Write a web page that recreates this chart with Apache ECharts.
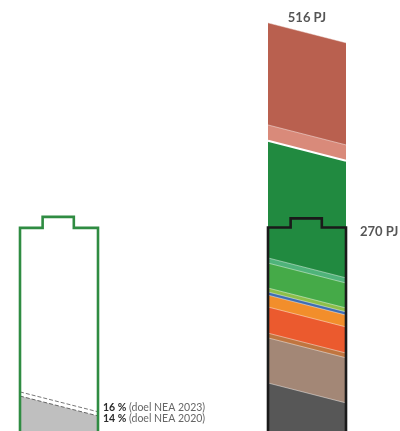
<!DOCTYPE html>
<html>
<head>
    <meta charset="utf-8">
    <title>Energie</title>
    <script src="https://cdn.jsdelivr.net/npm/echarts@6/dist/echarts.min.js"></script>
    <style>html, body { margin: 0; background: #fff; }</style>
</head>
<body>
    <div id="main" style="width: 400px;height:431px;"></div>
    <script type="text/javascript">
        // rechterkolom: lagen van onder naar boven (PJ)
        var layerNames = ['laag 1', 'laag 2', 'laag 3', 'laag 4', 'laag 5', 'laag 6',
                          'laag 7', 'laag 8', 'laag 9', 'laag 10', 'laag 11', 'laag 12'];
        var layerValues = [61, 57, 6, 33, 15, 4, 5, 31.5, 6.5, 148, 20, 129];
        var totalPJ = 516;
        var batteryPJ = 270;

        // linkerbatterij: doelen in %
        var targetPct = [14, 16];
        var targetLabels = ['(doel NEA 2020)', '(doel NEA 2023)'];

        // kleuren van de lagen
        var layerColors = ['#575757', '#a38776', '#c0753f', '#eb5a2e', '#f28e2b', '#3f6db3',
                           '#8dbf4a', '#45aa48', '#4fb37a', '#218a40', '#d98a7a', '#b9604f'];

        var slantPJ = 12.6;   // schuine rand, halve hoogte in PJ
        var slantPct = 4.8;   // idem voor de linkerbatterij in %
        var font = 'Lato, "Open Sans", sans-serif';

        // vorm van de batterij (x als fractie van de breedte)
        function batteryShape(bottom, top, nub) {
            return [[0, bottom], [0, top], [0.29, top], [0.29, nub],
                    [0.69, nub], [0.69, top], [1, top], [1, bottom]];
        }
        function slanted(v, s) {
            return [[0, v + s], [1, v - s]];
        }

        var myChart = echarts.init(document.getElementById('main'));

        var series = [];

        // linkerbatterij
        series.push({
            type: 'line', xAxisIndex: 0, yAxisIndex: 0, symbol: 'none',
            data: slanted(targetPct[0], slantPct),
            lineStyle: { color: '#666', width: 1, type: [4, 2] },
            areaStyle: { color: '#bfbfbf', opacity: 1, origin: 'start' },
            endLabel: {
                show: true, distance: 5, offset: [0, 3],
                fontFamily: font, fontSize: 10.5, color: '#666',
                formatter: '{p|' + targetPct[0] + ' %} ' + targetLabels[0],
                rich: { p: { fontFamily: font, fontSize: 10.5, fontWeight: 'bold', color: '#2b2b2b' } }
            }
        });
        series.push({
            type: 'line', xAxisIndex: 0, yAxisIndex: 0, symbol: 'none',
            data: slanted(targetPct[1], slantPct),
            lineStyle: { color: '#777', width: 1, type: [4, 2] },
            endLabel: {
                show: true, distance: 5, offset: [0, -4],
                fontFamily: font, fontSize: 10.5, color: '#666',
                formatter: '{p|' + targetPct[1] + ' %} ' + targetLabels[1],
                rich: { p: { fontFamily: font, fontSize: 10.5, fontWeight: 'bold', color: '#2b2b2b' } }
            }
        });
        series.push({
            type: 'line', xAxisIndex: 0, yAxisIndex: 0, symbol: 'none', clip: false, z: 5,
            data: batteryShape(-5, 100, 105.3),
            lineStyle: { color: '#2f8c42', width: 2.6, join: 'miter' }
        });

        // rechterkolom: bovenrand van elke laag, van boven naar onder getekend
        var tops = [];
        var cum = 0;
        layerValues.forEach(function (v) { cum += v; tops.push(cum); });
        for (var i = layerValues.length - 1; i >= 0; i--) {
            series.push({
                name: layerNames[i], type: 'line', xAxisIndex: 1, yAxisIndex: 1, symbol: 'none',
                data: slanted(tops[i], slantPJ),
                lineStyle: i == 9 ? { color: '#fff', width: 2 } : { color: 'rgba(255,255,255,0.45)', width: 1 },
                areaStyle: { color: layerColors[i], opacity: 1, origin: 'start' }
            });
        }
        series.push({
            type: 'line', xAxisIndex: 1, yAxisIndex: 1, symbol: 'none', clip: false, z: 5,
            data: batteryShape(-30, batteryPJ, 281.6),
            lineStyle: { color: '#1a1a1a', width: 2.6, join: 'miter' }
        });

        // labels
        series.push({
            type: 'scatter', xAxisIndex: 1, yAxisIndex: 1, symbolSize: 0, silent: true,
            data: [[0.5, totalPJ]],
            label: {
                show: true, position: 'top', distance: 9,
                fontFamily: font, fontSize: 13, fontWeight: 'bold', color: '#2b2b2b',
                formatter: function (p) { return p.value[1] + ' PJ'; }
            }
        });
        series.push({
            type: 'scatter', xAxisIndex: 1, yAxisIndex: 1, symbolSize: 0, silent: true,
            data: [[1, batteryPJ]],
            label: {
                show: true, position: 'right', distance: 14, offset: [0, 4],
                fontFamily: font, fontSize: 13, fontWeight: 'bold', color: '#2b2b2b',
                formatter: function (p) { return p.value[1] + ' PJ'; }
            }
        });

        var option = {
            animation: false,
            grid: [
                { left: 20, width: 78, top: 0, bottom: -4, outerBoundsMode: 'none' },
                { left: 268, width: 78, top: -2, bottom: -34, outerBoundsMode: 'none' }
            ],
            xAxis: [
                { type: 'value', gridIndex: 0, min: 0, max: 1, show: false },
                { type: 'value', gridIndex: 1, min: 0, max: 1, show: false }
            ],
            yAxis: [
                { type: 'value', gridIndex: 0, min: 0, max: 210, show: false },
                { type: 'value', gridIndex: 1, min: -30, max: 560, show: false }
            ],
            series: series
        };

        myChart.setOption(option);
    </script>
</body>
</html>
